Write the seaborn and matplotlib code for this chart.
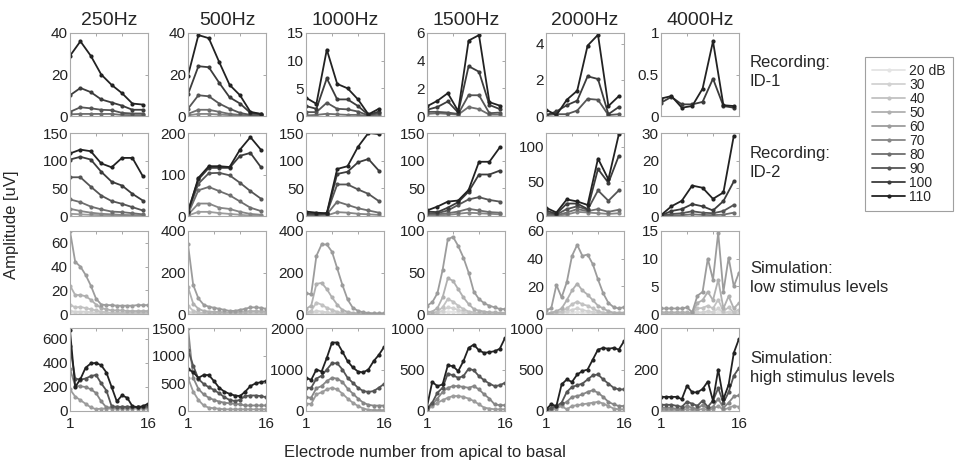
import matplotlib
matplotlib.use('Agg')
import matplotlib.pyplot as plt
from matplotlib.lines import Line2D
from matplotlib.ticker import FuncFormatter
import seaborn as sns
import pandas as pd

# x positions (electrode numbers)
rec_x = [1, 3, 5, 7, 9, 11, 13, 15]
sim_x = [1, 2, 3, 4, 5, 6, 7, 8, 9, 10, 11, 12, 13, 14, 15, 16]

freqs = ['250Hz', '500Hz', '1000Hz', '1500Hz', '2000Hz', '4000Hz']
all_levels = [20, 30, 40, 50, 60, 70, 80, 90, 100, 110]
legend_labels = ['20 dB', '30', '40', '50', '60', '70', '80', '90', '100', '110']

# levels of each row, from the top curve down
id1_levels = [110, 100, 90, 80, 70]
id2_levels = [110, 100, 90, 80, 70, 60]
low_levels = [60, 50, 40, 30, 20]
high_levels = [110, 90, 70, 60]

# ---- Recording ID-1
id1_250 = [[29, 36, 29, 20, 15, 11, 6, 5.5],
           [10, 13.5, 11.5, 8, 6.5, 5, 3, 3],
           [2, 4.2, 3.7, 3, 2.8, 1.5, 1.2, 1.2],
           [0.8, 1, 1, 1, 1, 0.5, 0.4, 0.4]]
id1_500 = [[19.5, 39, 37.5, 26, 15, 10, 2, 1],
           [10.5, 24, 23.5, 16, 9, 6, 1.5, 1],
           [3.5, 10, 9.5, 6, 3.5, 1.5, 0.5, 0.5],
           [1, 3, 3, 2, 1, 0.5, 0.3, 0.3],
           [0.3, 1, 1, 0.7, 0.4, 0.2, 0.1, 0.1]]
id1_1000 = [[3.3, 2.2, 12, 5.8, 5.0, 3.0, 0.3, 1.3],
            [1.8, 1.3, 6.8, 3, 3, 1.8, 0.2, 0.8],
            [0.7, 0.7, 2.4, 1.3, 1.2, 0.8, 0.1, 0.5],
            [0.1, 0.2, 0.4, 0.3, 0.2, 0.2, 0.05, 0.2]]
id1_1500 = [[0.7, 1.1, 1.65, 0.35, 5.45, 5.85, 1.0, 0.75],
            [0.45, 0.65, 1.05, 0.25, 3.6, 3.2, 0.8, 0.5],
            [0.3, 0.3, 0.25, 0.15, 1.5, 1.5, 0.2, 0.25],
            [0.15, 0.2, 0.15, 0.1, 0.65, 0.5, 0.1, 0.1]]
id1_2000 = [[0.35, 0.05, 0.9, 1.4, 3.9, 4.5, 0.55, 1.1],
            [0.05, 0.25, 0.6, 0.85, 2.2, 2.05, 0.1, 0.5],
            [0.05, 0.1, 0.1, 0.3, 0.95, 0.9, 0.05, 0.1]]
id1_4000 = [[0.21, 0.24, 0.1, 0.12, 0.33, 0.9, 0.13, 0.12],
            [0.16, 0.23, 0.14, 0.14, 0.17, 0.45, 0.12, 0.1]]

# ---- Recording ID-2
id2_250 = [[113, 120, 117, 95, 88, 105, 105, 72],
           [102, 107, 102, 80, 62, 55, 40, 28],
           [70, 70, 53, 37, 27, 22, 16, 10],
           [30, 25, 17, 12, 8, 7, 5, 3],
           [13, 9, 6, 4, 3, 2, 1.5, 1],
           [4, 3, 2, 1.5, 1, 1, 0.5, 0.5]]
id2_500 = [[10, 92, 120, 120, 118, 160, 190, 160],
           [12, 88, 116, 116, 116, 145, 152, 118],
           [10, 78, 103, 104, 98, 80, 60, 42],
           [5, 62, 70, 60, 50, 35, 20, 12],
           [3, 30, 30, 20, 17, 10, 5, 3],
           [1, 10, 10, 7, 5, 3, 1, 0.5]]
id2_1000 = [[8, 6, 5, 85, 90, 125, 150, 148],
            [5, 4, 4, 76, 80, 97, 103, 82],
            [3, 2, 5, 57, 57, 48, 40, 27],
            [1, 1, 3, 26, 20, 14, 10, 6],
            [0.5, 0.5, 1, 7, 6, 4, 3, 2]]
id2_1500 = [[10, 17, 26, 28, 47, 98, 98, 124],
            [8, 7, 15, 25, 44, 75, 75, 82],
            [5, 5, 10, 20, 30, 34, 29, 26],
            [3, 3, 5, 8, 13, 10, 7, 6],
            [1, 1, 2, 4, 6, 5, 4, 3]]
id2_2000 = [[12, 5, 24, 21, 16, 83, 53, 118],
            [8, 3, 18, 18, 10, 68, 48, 87],
            [5, 2, 10, 14, 9, 37, 22, 37],
            [2, 1, 5, 10, 7, 10, 6, 9],
            [1, 0.5, 2, 6, 5, 4, 3, 4]]
id2_4000 = [[0.3, 3.5, 5.5, 11, 10.2, 6.2, 8.5, 29],
            [0.2, 1.8, 2.5, 4.3, 3.5, 2, 5.4, 12.5],
            [0.1, 0.7, 1, 1.7, 1.2, 1, 1.8, 4],
            [0, 0.2, 0.3, 0.6, 0.4, 0.3, 0.5, 1.2]]

# ---- Simulation, low stimulus levels
low_250 = [[70, 44, 40, 33, 24, 13, 8, 7.5, 7.5, 7, 7, 7, 7, 7.5, 7.5, 7.5],
           [24, 16, 16, 15, 12, 8, 5, 4, 3, 3, 3, 2.5, 2.5, 2.5, 2.5, 2.5],
           [8, 5.5, 6, 5, 4, 3, 2, 1.5, 1, 1, 1, 1, 1, 1, 1, 1],
           [2.5, 2, 2, 2, 1.5, 1, 0.7, 0.5, 0.4, 0.4, 0.4, 0.4, 0.4, 0.4, 0.4, 0.4],
           [0.8, 0.6, 0.6, 0.6, 0.5, 0.3, 0.2, 0.2, 0.1, 0.1, 0.1, 0.1, 0.1, 0.1, 0.1, 0.1]]
low_500 = [[335, 140, 75, 45, 35, 30, 25, 20, 15, 15, 20, 25, 32, 32, 30, 25],
           [130, 50, 25, 15, 12, 10, 10, 8, 8, 8, 10, 12, 14, 14, 13, 12],
           [40, 15, 8, 5, 4, 3, 3, 3, 3, 3, 3, 4, 5, 5, 5, 4],
           [12, 5, 3, 2, 1.5, 1, 1, 1, 1, 1, 1, 1.5, 1.5, 1.5, 1.5, 1.5],
           [3, 1.5, 1, 0.5, 0.5, 0.3, 0.3, 0.3, 0.3, 0.3, 0.3, 0.4, 0.4, 0.4, 0.4, 0.4]]
low_1000 = [[100, 95, 280, 335, 335, 300, 220, 140, 70, 30, 15, 8, 5, 3, 3, 3],
            [25, 40, 145, 150, 120, 80, 45, 20, 10, 5, 3, 2, 2, 2, 2, 2],
            [5, 15, 55, 45, 30, 20, 10, 5, 3, 2, 1, 1, 1, 1, 1, 1],
            [2, 5, 15, 12, 8, 5, 3, 2, 1, 1, 0.5, 0.5, 0.5, 0.5, 0.5, 0.5],
            [1, 2, 4, 3, 2, 1, 0.8, 0.5, 0.3, 0.2, 0.2, 0.2, 0.2, 0.2, 0.2, 0.2]]
low_1500 = [[10, 14, 25, 53, 90, 93, 82, 68, 50, 27, 18, 13, 10, 8, 6, 6],
            [2, 3, 7, 20, 43, 40, 30, 20, 12, 6, 4, 3, 2, 2, 1.5, 1.5],
            [0.5, 1, 3, 8, 18, 15, 10, 6, 3, 2, 1, 1, 0.8, 0.8, 0.5, 0.5],
            [0.2, 0.5, 1.5, 4, 8, 7, 5, 3, 1.5, 1, 0.5, 0.4, 0.3, 0.3, 0.2, 0.2],
            [0, 0.2, 0.5, 1.5, 3, 2.5, 2, 1, 0.6, 0.4, 0.2, 0.1, 0.1, 0.1, 0.1, 0.1]]
low_2000 = [[3, 4, 21, 12, 23, 42, 50, 42, 43, 36, 25, 15, 8, 5, 4, 5],
            [0, 1, 2, 4, 10, 17, 22, 17, 14, 10, 6, 4, 2, 1, 1, 1],
            [0, 0.5, 1, 2, 4, 7, 9, 7, 6, 4, 2, 1, 0.8, 0.5, 0.5, 0.5],
            [0, 0, 0.5, 1, 2, 3, 4, 3, 2, 1.5, 1, 0.5, 0.3, 0.2, 0.2, 0.2],
            [0, 0, 0, 0.5, 1, 1, 1.5, 1, 0.8, 0.5, 0.3, 0.2, 0.1, 0.1, 0.1, 0.1]]
low_4000 = [[1, 1, 1, 1, 1, 1.2, 0.3, 3.3, 4, 10, 6.2, 14.7, 4, 10.2, 5, 7.5],
            [0.3, 0.3, 0.3, 0.3, 0.3, 0.3, 0.1, 2, 2.5, 4, 2.5, 6.2, 1, 3.2, 1, 2],
            [0.1, 0.1, 0.1, 0.1, 0.1, 0.1, 0.05, 1, 1.1, 1.5, 1, 2.6, 0.5, 1.2, 0.3, 0.8],
            [0.05, 0.05, 0.05, 0.05, 0.05, 0.05, 0, 0.3, 0.3, 0.5, 0.3, 1, 0.2, 0.4, 0.1, 0.3],
            [0, 0, 0, 0, 0, 0, 0, 0.1, 0.1, 0.2, 0.1, 0.3, 0.1, 0.1, 0, 0.1]]

# ---- Simulation, high stimulus levels
high_250 = [[670, 200, 265, 360, 395, 400, 380, 320, 200, 80, 130, 110, 40, 30, 40, 60],
            [540, 270, 260, 270, 290, 300, 230, 170, 40, 35, 35, 35, 35, 35, 35, 40],
            [350, 210, 205, 200, 180, 150, 80, 30, 30, 30, 30, 30, 30, 30, 30, 30],
            [180, 120, 90, 60, 30, 15, 20, 20, 20, 20, 20, 20, 20, 20, 20, 20]]
high_500 = [[760, 700, 600, 650, 650, 540, 420, 350, 310, 280, 270, 350, 450, 500, 520, 540],
            [1100, 820, 580, 490, 430, 380, 320, 250, 200, 180, 200, 270, 280, 280, 270, 250],
            [1500, 600, 400, 300, 240, 200, 170, 150, 140, 130, 120, 100, 100, 100, 100, 100],
            [600, 350, 200, 100, 60, 50, 40, 30, 30, 30, 30, 30, 30, 30, 30, 30]]
high_1000 = [[800, 750, 1000, 950, 1280, 1650, 1650, 1430, 1200, 1050, 950, 930, 1000, 1200, 1350, 1540],
             [560, 560, 780, 850, 1000, 1150, 1150, 1000, 800, 680, 560, 480, 460, 480, 560, 650],
             [330, 320, 550, 600, 720, 800, 780, 700, 540, 420, 300, 200, 150, 130, 130, 130],
             [180, 170, 400, 450, 520, 560, 520, 420, 300, 200, 120, 60, 30, 20, 20, 20]]
high_1500 = [[50, 350, 300, 320, 550, 540, 480, 600, 760, 800, 730, 700, 710, 720, 750, 880],
             [30, 100, 220, 280, 450, 430, 400, 420, 510, 490, 420, 370, 330, 300, 310, 340],
             [20, 80, 150, 230, 280, 300, 300, 290, 280, 300, 260, 200, 150, 80, 70, 70],
             [10, 60, 100, 130, 160, 180, 180, 170, 150, 120, 80, 40, 30, 20, 20, 20]]
high_2000 = [[20, 80, 60, 320, 380, 350, 440, 480, 500, 620, 740, 760, 750, 760, 740, 840],
             [10, 40, 60, 100, 230, 290, 310, 330, 380, 430, 440, 380, 330, 280, 260, 260],
             [5, 20, 50, 80, 110, 170, 180, 200, 230, 250, 220, 170, 110, 80, 60, 60],
             [0, 10, 30, 60, 20, 60, 70, 80, 90, 100, 110, 90, 60, 30, 20, 20]]
high_4000 = [[68, 68, 68, 68, 57, 122, 90, 90, 106, 142, 49, 200, 57, 126, 280, 348],
             [30, 30, 30, 25, 20, 45, 35, 25, 50, 20, 50, 110, 40, 90, 170, 207],
             [15, 15, 15, 10, 10, 25, 15, 10, 30, 10, 20, 60, 15, 40, 70, 75],
             [5, 5, 5, 5, 5, 10, 5, 5, 10, 5, 10, 25, 5, 15, 25, 20]]

rows = [
    (rec_x, id1_levels, [id1_250, id1_500, id1_1000, id1_1500, id1_2000, id1_4000]),
    (rec_x, id2_levels, [id2_250, id2_500, id2_1000, id2_1500, id2_2000, id2_4000]),
    (sim_x, low_levels, [low_250, low_500, low_1000, low_1500, low_2000, low_4000]),
    (sim_x, high_levels, [high_250, high_500, high_1000, high_1500, high_2000, high_4000]),
]
ylims = [[40, 40, 15, 6, 4.6, 1],
         [150, 200, 150, 150, 120, 30],
         [70, 400, 400, 100, 60, 15],
         [690, 1500, 2000, 1000, 1000, 400]]
yticks = [[[0, 20, 40], [0, 20, 40], [0, 5, 10, 15], [0, 2, 4, 6], [0, 2, 4], [0, 0.5, 1]],
          [[0, 50, 100, 150], [0, 100, 200], [0, 50, 100, 150], [0, 50, 100, 150], [0, 50, 100], [0, 10, 20, 30]],
          [[0, 20, 40, 60], [0, 200, 400], [0, 200, 400], [0, 50, 100], [0, 20, 40, 60], [0, 5, 10, 15]],
          [[0, 200, 400, 600], [0, 500, 1000, 1500], [0, 1000, 2000], [0, 500, 1000], [0, 500, 1000], [0, 200, 400]]]
row_labels = ['Recording:\nID-1', 'Recording:\nID-2',
              'Simulation:\nlow stimulus levels', 'Simulation:\nhigh stimulus levels']

sns.set_theme(style='white')
plt.rcParams['font.family'] = ['Liberation Sans', 'DejaVu Sans']

grays = ['#e4e4e4', '#d2d2d2', '#c2c2c2', '#b0b0b0', '#9c9c9c',
         '#868686', '#6e6e6e', '#555555', '#3c3c3c', '#222222']
palette = dict(zip(all_levels, grays))

W, H = 962, 466
fig = plt.figure(figsize=(W / 100, H / 100), dpi=100)

col_left = [70, 188, 306, 427, 546, 661]
row_top = [33, 133, 231, 328]
aw, ah = 78, 83

for r, (xs, levels, panels) in enumerate(rows):
    for c, curves in enumerate(panels):
        ax = fig.add_axes([col_left[c] / W, 1 - (row_top[r] + ah) / H, aw / W, ah / H])
        recs = []
        for lev, vals in zip(levels, curves):
            for x, v in zip(xs, vals):
                recs.append({'x': x, 'amp': v, 'level': lev})
        df = pd.DataFrame(recs)
        order = sorted(df['level'].unique())
        sns.lineplot(data=df, x='x', y='amp', hue='level', hue_order=order,
                     palette=palette, marker='o', markersize=3, markeredgewidth=0,
                     linewidth=1.3, legend=False, ax=ax)
        ax.set_xlim(1, 16)
        ax.set_ylim(0, ylims[r][c])
        ax.set_yticks(yticks[r][c])
        ax.yaxis.set_major_formatter(FuncFormatter(lambda v, p: f'{v:g}'))
        ax.set_xticks([1, 16])
        ax.set_xticks([6, 11], minor=True)
        if r == 3:
            ax.set_xticklabels(['1', '16'])
        else:
            ax.set_xticklabels([])
        ax.set_xlabel('')
        ax.set_ylabel('')
        ax.tick_params(which='both', direction='in', length=2.5, width=0.6, color='#999999',
                       top=True, right=True, labelsize=11, pad=1.5, labelcolor='#222222')
        ax.tick_params(axis='x', pad=4)
        for sp in ax.spines.values():
            sp.set_color('#aaaaaa')
            sp.set_linewidth(0.8)
        if r == 0:
            ax.set_title(freqs[c], fontsize=14, pad=6)

row_y = [72, 163, 278, 368]
for lab, yy in zip(row_labels, row_y):
    fig.text(750 / W, 1 - yy / H, lab, fontsize=12, ha='left', va='center', linespacing=1.35)

fig.text(12 / W, 1 - 225 / H, 'Amplitude [uV]', rotation=90, fontsize=12, ha='center', va='center')
fig.text(425 / W, 1 - 452 / H, 'Electrode number from apical to basal', fontsize=12,
         ha='center', va='center')

handles = [Line2D([0], [0], color=palette[l], lw=1.3, marker='o', markersize=3,
                  markeredgewidth=0) for l in all_levels]
leg = fig.legend(handles, legend_labels, loc='upper left',
                 bbox_to_anchor=(865 / W, 1 - 57 / H), fontsize=10,
                 labelspacing=0.0, handlelength=2.4, handletextpad=0.3,
                 borderpad=0.5, borderaxespad=0, frameon=True, fancybox=False)
leg.get_frame().set_edgecolor('#888888')
leg.get_frame().set_linewidth(0.8)

fig.savefig('out.png', dpi=100)
